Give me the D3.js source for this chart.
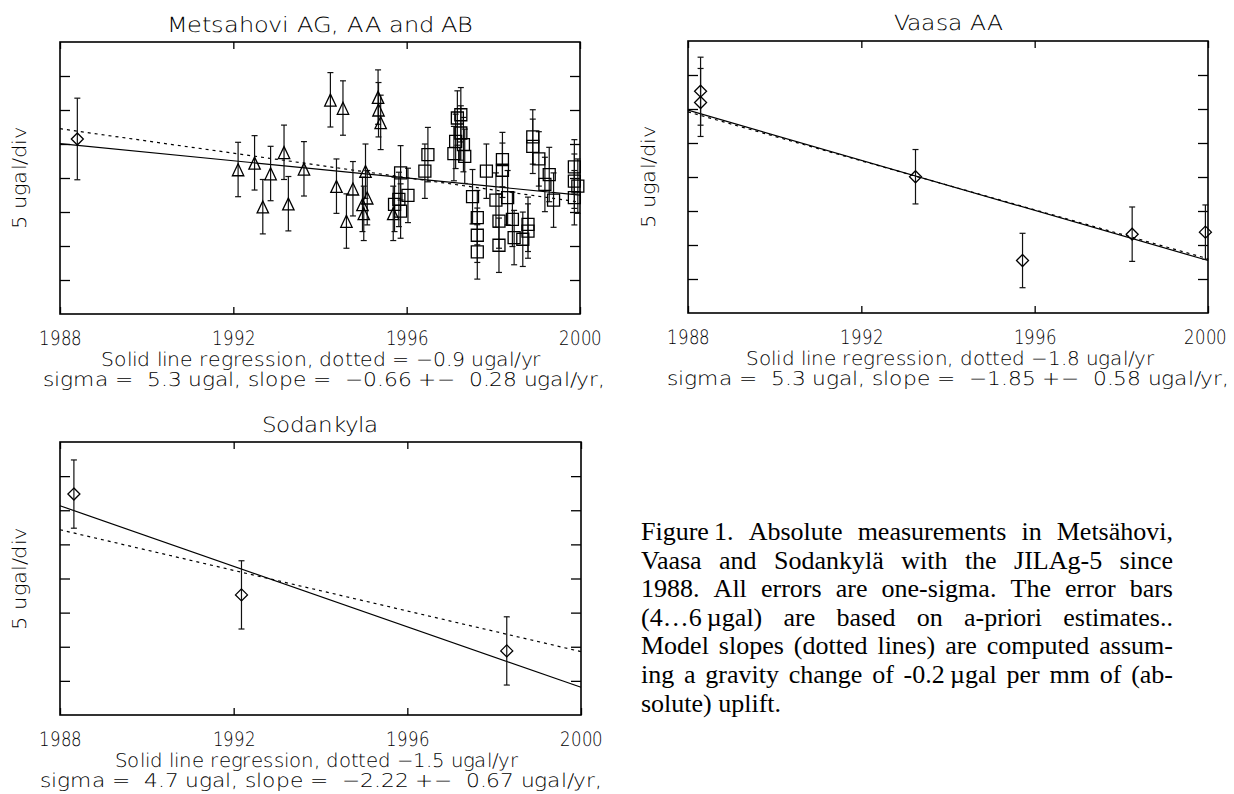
<!DOCTYPE html>
<html><head><meta charset="utf-8">
<script src="https://cdn.jsdelivr.net/npm/d3@7"></script>
<style>
@font-face { font-family: 'PlotThin'; src: local('DejaVu Sans ExtraLight'), local('DejaVuSans-ExtraLight'); }
body{margin:0;background:#fff}svg{display:block}
</style>
</head><body>
<svg id="chart" width="1234" height="794"></svg>
<script>
// ---------- data ----------
const xTickValues = [1988, 1992, 1996, 2000];
const yTickValues = [-15, -10, -5, 0, 5, 10, 15];
const lineYears = [1988, 2000];

// Metsahovi
const metDiamondYears = [1988.40];
const metDiamondVals = [5.74];
const metDiamondErr = [6];
const metTriYears = [1992.11, 1992.49, 1992.68, 1992.86, 1993.17, 1993.27, 1993.63, 1994.24, 1994.38, 1994.53,
  1994.61, 1994.76, 1994.98, 1995.01, 1995.05, 1995.09, 1995.34, 1995.35, 1995.40, 1995.69];
const metTriVals = [1.25, 2.23, -4.22, 0.66, 3.78, -3.78, 1.35, 11.50, -1.20, 10.29,
  -6.33, -1.58, -3.88, -5.20, 1.00, -2.90, 11.90, 10.04, 8.18, -5.20];
const metTriErr = [4, 4, 4, 4, 4, 4, 4, 4, 4, 4, 4, 4, 4, 4, 4, 4, 4, 4, 4, 4];
const metSqYears = [1995.72, 1995.82, 1995.86, 1995.86, 1996.03, 1996.42, 1996.49, 1997.09, 1997.13, 1997.17,
  1997.25, 1997.25, 1997.31, 1997.34, 1997.52, 1997.63, 1997.63, 1997.63, 1997.84, 1998.06,
  1998.13, 1998.13, 1998.21, 1998.21, 1998.33, 1998.44, 1998.48, 1998.68, 1998.80, 1998.80,
  1998.91, 1998.91, 1999.05, 1999.19, 1999.29, 1999.39, 1999.87, 1999.87, 1999.87, 1999.95];
const metSqVals = [-3.88, -3.15, 0.76, -4.86, -2.56, 1.00, 3.44, 3.59, 5.39, 8.82,
  9.30, 6.62, 4.91, 3.19, -2.75, -5.83, -8.42, -10.87, 1.00, -3.25,
  -6.33, -9.89, 2.71, 1.14, -2.90, -6.08, -8.76, -9.01, -6.81, -7.80,
  6.04, 4.66, 2.81, -0.95, 0.51, -3.25, 1.64, -0.47, -2.90, -1.20];
const metSqErr = [4, 4, 4, 4, 4, 4, 4, 4, 4, 4, 4, 4, 4, 4, 4, 4, 4, 4, 4, 4,
  4, 4, 4, 4, 4, 4, 4, 4, 4, 4, 4, 4, 4, 4, 4, 4, 4, 4, 4, 4];
const metSolid = [5.06, -2.52];
const metDotted = [7.25, -3.55];

// Vaasa
const vaaYears = [1988.29, 1988.29, 1993.25, 1995.72, 1998.25, 1999.94];
const vaaVals = [12.62, 10.96, 0.04, -12.28, -8.41, -8.11];
const vaaErr = [5, 5, 4, 4, 4, 4];
const vaaSolid = [9.83, -12.28];
const vaaDotted = [9.58, -12.02];

// Sodankyla
const sodYears = [1988.32, 1992.18, 1998.29];
const sodVals = [12.37, -2.40, -10.61];
const sodErr = [5, 5, 5];
const sodSolid = [10.66, -15.94];
const sodDotted = [7.14, -10.71];

const titles = ["Metsahovi AG, AA and AB", "Vaasa AA", "Sodankyla"];
const yLabel = "5 ugal/div";
const notes1 = ["Solid line regression, dotted = \u22120.9 ugal/yr",
  "Solid line regression, dotted \u22121.8 ugal/yr",
  "Solid line regression, dotted \u22121.5 ugal/yr"];
const notes2 = ["sigma =  5.3 ugal, slope =  \u22120.66 +\u2212  0.28 ugal/yr,",
  "sigma =  5.3 ugal, slope =  \u22121.85 +\u2212  0.58 ugal/yr,",
  "sigma =  4.7 ugal, slope =  \u22122.22 +\u2212  0.67 ugal/yr,"];
const captionLines = [
  "Figure\u20091. Absolute measurements in Mets\u00e4hovi,",
  "Vaasa and Sodankyl\u00e4 with the JILAg-5 since",
  "1988. All errors are one-sigma. The error bars",
  "(4\u20266\u2009\u00b5gal) are based on a-priori estimates..",
  "Model slopes (dotted lines) are computed assum-",
  "ing a gravity change of -0.2\u2009\u00b5gal per mm of (ab-",
  "solute) uplift."
];

// ---------- drawing ----------
const svg = d3.select("#chart");
const FONT = "PlotThin, 'DejaVu Sans', 'Liberation Sans', sans-serif";
const INK = "#000";

function diamondPath(cx, cy, s) { return `M${cx},${cy - s}L${cx + s},${cy}L${cx},${cy + s}L${cx - s},${cy}Z`; }
function trianglePath(cx, cy, s) { return `M${cx},${cy - s}L${cx + s},${cy + s * 1.1}L${cx - s},${cy + s * 1.1}Z`; }
function squarePath(cx, cy, s) { return `M${cx - s},${cy - s}H${cx + s}V${cy + s}H${cx - s}Z`; }

function panel(cfg) {
  const g = svg.append("g");
  const x = d3.scaleLinear().domain([1988, 2000]).range([cfg.left, cfg.right]);
  const y = d3.scaleLinear().domain([-20, 20]).range([cfg.bottom, cfg.top]);

  const ax = (gen, tx, ty) => {
    const a = g.append("g").attr("transform", `translate(${tx},${ty})`).call(gen);
    a.select(".domain").remove();
    a.selectAll(".tick line").attr("stroke", INK).attr("stroke-width", 1.3);
    return a;
  };
  const bottomAxis = ax(d3.axisBottom(x).tickValues(xTickValues).tickSizeInner(-7).tickSizeOuter(0)
    .tickPadding(16.5).tickFormat(d3.format("d")), 0, cfg.bottom);
  bottomAxis.selectAll("text").attr("font-family", FONT).attr("font-size", 20)
    .attr("fill", INK).attr("textLength", 43).attr("lengthAdjust", "spacingAndGlyphs")
    .attr("dx", (d, i) => (i === xTickValues.length - 1 ? cfg.lastDx : 0));
  ax(d3.axisTop(x).tickValues(xTickValues).tickSizeInner(-7).tickSizeOuter(0).tickFormat(""), 0, cfg.top);
  ax(d3.axisLeft(y).tickValues(yTickValues).tickSizeInner(-10).tickSizeOuter(0).tickFormat(""), cfg.left, 0);
  ax(d3.axisRight(y).tickValues(yTickValues).tickSizeInner(-10).tickSizeOuter(0).tickFormat(""), cfg.right, 0);

  g.append("rect").attr("x", cfg.left).attr("y", cfg.top)
    .attr("width", cfg.right - cfg.left).attr("height", cfg.bottom - cfg.top)
    .attr("fill", "none").attr("stroke", INK).attr("stroke-width", 1.6);

  const line = d3.line().x(d => x(d[0])).y(d => y(d[1]));
  g.append("path").attr("d", line(d3.zip(lineYears, cfg.solid)))
    .attr("fill", "none").attr("stroke", INK).attr("stroke-width", 1.2);
  g.append("path").attr("d", line(d3.zip(lineYears, cfg.dotted)))
    .attr("fill", "none").attr("stroke", INK).attr("stroke-width", 1.2).attr("stroke-dasharray", "3,4");

  cfg.series.forEach(s => {
    const pts = d3.zip(s.years, s.vals, s.err);
    const eg = g.append("g").attr("stroke", "#111").attr("stroke-width", 1.2).attr("fill", "none");
    pts.forEach(p => {
      const px = x(p[0]), y1 = y(p[1] + p[2]), y2 = y(p[1] - p[2]);
      eg.append("line").attr("x1", px).attr("x2", px).attr("y1", y1).attr("y2", y2);
      eg.append("line").attr("x1", px - 3).attr("x2", px + 3).attr("y1", y1).attr("y2", y1);
      eg.append("line").attr("x1", px - 3).attr("x2", px + 3).attr("y1", y2).attr("y2", y2);
    });
    g.append("g").selectAll("path").data(pts).join("path")
      .attr("d", p => s.shape(x(p[0]), y(p[1]), s.size))
      .attr("fill", "none").attr("stroke", INK).attr("stroke-width", 1.3);
  });

  g.append("text").attr("x", cfg.titleX).attr("y", cfg.titleY).attr("text-anchor", "middle")
    .attr("font-family", FONT).attr("font-size", 21).attr("fill", INK)
    .attr("textLength", cfg.titleW).attr("lengthAdjust", "spacingAndGlyphs").text(cfg.title);
  g.append("text").attr("transform", `translate(${cfg.yLabX},${(cfg.top + cfg.bottom) / 2}) rotate(-90)`)
    .attr("text-anchor", "middle").attr("font-family", FONT).attr("font-size", 19)
    .attr("fill", INK).attr("textLength", 102).attr("lengthAdjust", "spacingAndGlyphs").text(yLabel);
  g.append("text").attr("x", cfg.n1x).attr("y", cfg.bottom + 52).attr("font-family", FONT)
    .attr("font-size", 19).attr("fill", INK).attr("textLength", cfg.n1w).attr("lengthAdjust", "spacingAndGlyphs")
    .style("white-space", "pre").text(cfg.note1);
  g.append("text").attr("x", cfg.n2x).attr("y", cfg.bottom + 72).attr("font-family", FONT)
    .attr("font-size", 19).attr("fill", INK).attr("textLength", 562).attr("lengthAdjust", "spacingAndGlyphs")
    .style("white-space", "pre").text(cfg.note2);
}

panel({
  left: 60, right: 580, top: 42, bottom: 314, lastDx: 0,
  solid: metSolid, dotted: metDotted,
  series: [
    { years: metDiamondYears, vals: metDiamondVals, err: metDiamondErr, shape: diamondPath, size: 6 },
    { years: metTriYears, vals: metTriVals, err: metTriErr, shape: trianglePath, size: 5.7 },
    { years: metSqYears, vals: metSqVals, err: metSqErr, shape: squarePath, size: 6 }
  ],
  title: titles[0], titleX: 320, titleY: 32, titleW: 307, yLabX: 26,
  note1: notes1[0], n1x: 101, n1w: 440, note2: notes2[0], n2x: 43
});
panel({
  left: 688, right: 1208, top: 41, bottom: 313, lastDx: -3,
  solid: vaaSolid, dotted: vaaDotted,
  series: [{ years: vaaYears, vals: vaaVals, err: vaaErr, shape: diamondPath, size: 6 }],
  title: titles[1], titleX: 948, titleY: 30, titleW: 109, yLabX: 655,
  note1: notes1[1], n1x: 746, n1w: 408, note2: notes2[1], n2x: 667
});
panel({
  left: 60, right: 581, top: 442, bottom: 715, lastDx: 0,
  solid: sodSolid, dotted: sodDotted,
  series: [{ years: sodYears, vals: sodVals, err: sodErr, shape: diamondPath, size: 6 }],
  title: titles[2], titleX: 320, titleY: 432, titleW: 117, yLabX: 26,
  note1: notes1[2], n1x: 115, n1w: 403, note2: notes2[2], n2x: 40
});

// caption (justified)
const capLeft = 641, capRight = 1173, capTop = 540, capStep = 28.6;
const cap = svg.append("g").attr("font-family", "'Liberation Serif', 'Times New Roman', serif")
  .attr("font-size", 26).attr("fill", INK);
captionLines.forEach((ln, i) => {
  const words = ln.split(" ");
  const yb = capTop + i * capStep;
  const nodes = words.map(w => cap.append("text").attr("y", yb).text(w));
  const widths = nodes.map(n => n.node().getComputedTextLength());
  const total = d3.sum(widths);
  const last = i === captionLines.length - 1;
  const gap = last ? 6.5 : (capRight - capLeft - total) / (words.length - 1);
  let xx = capLeft;
  nodes.forEach((n, k) => { n.attr("x", xx); xx += widths[k] + gap; });
});
</script>
</body></html>
